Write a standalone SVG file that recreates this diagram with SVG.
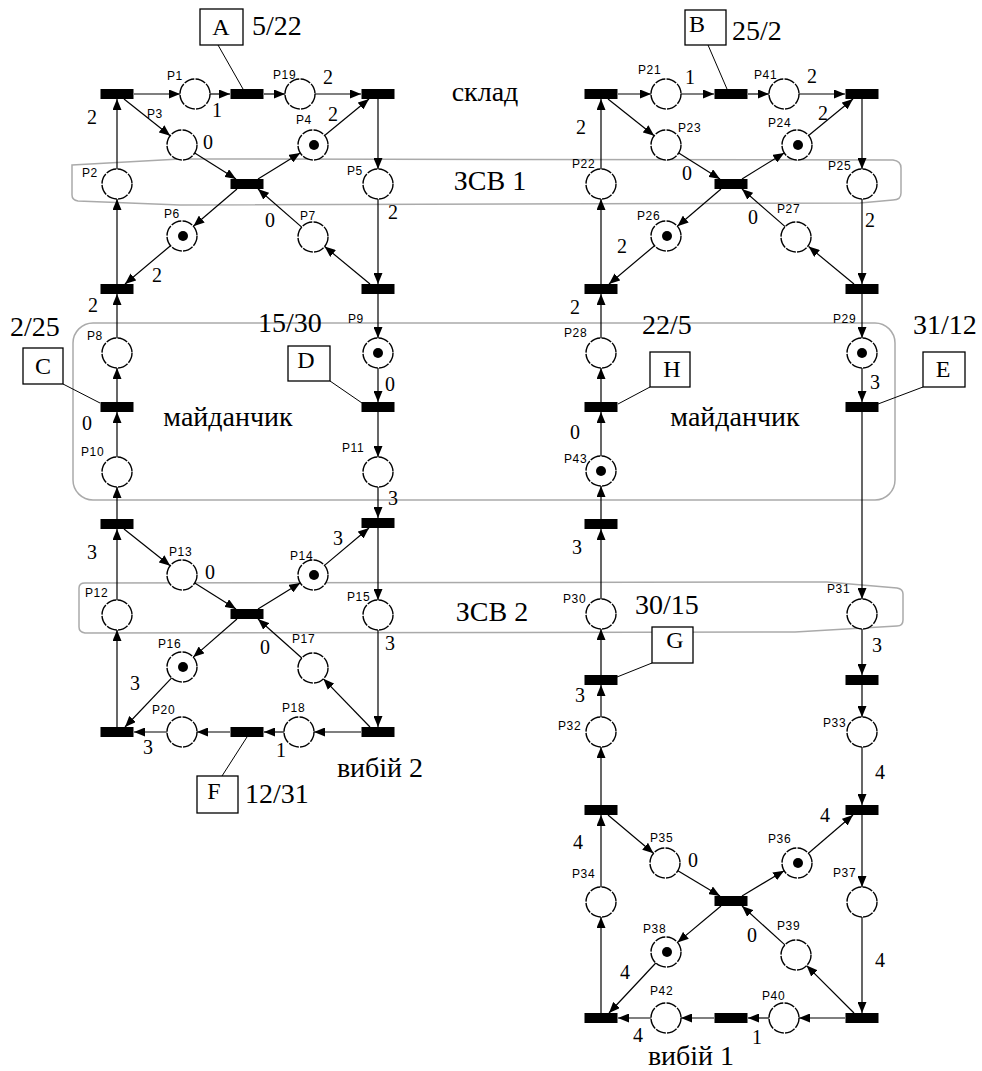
<svg xmlns="http://www.w3.org/2000/svg" width="982" height="1071" viewBox="0 0 982 1071">
<style>
.pl{fill:#fff;stroke:#000;stroke-width:1.4;stroke-dasharray:10.5 1.3}
.tr{fill:#000}
.tok{fill:#000}
.arc{stroke:#000;stroke-width:1.2;fill:none;marker-end:url(#ah)}
.lbl{font-family:"Liberation Sans",Arial,sans-serif;font-size:12px;letter-spacing:0.6px;fill:#000}
.w{font-family:"Liberation Serif","Times New Roman",serif;font-size:20px;fill:#000;text-anchor:middle}
.big{font-family:"Liberation Serif","Times New Roman",serif;font-size:28px;fill:#000}
.let{font-family:"Liberation Serif","Times New Roman",serif;font-size:24px;fill:#000;text-anchor:middle}
.box{fill:#fff;stroke:#000;stroke-width:1.3}
.lead{stroke:#000;stroke-width:1}
.band{fill:none;stroke:#aaa;stroke-width:1.5}
</style>
<defs>
<marker id="ah" markerUnits="userSpaceOnUse" markerWidth="11" markerHeight="9" refX="11" refY="4.5" orient="auto">
<path d="M0,0 L11,4.5 L0,9 z" fill="#000"/>
</marker>
</defs>
<rect width="982" height="1071" fill="#fff"/>

<g id="regions">
<path class="band" d="M72,165 L180,159 L893,160 Q901,161 901,168 L901,193 Q901,200 893,200 L860,203 L180,205 L78,201 Q72,200 72,195 Z"/>
<rect class="band" x="73" y="323" width="822" height="177" rx="20"/>
<path class="band" d="M79,588 Q79,583 85,583 L827,582 L897,588 Q903,589 903,594 L903,620 Q903,626 897,626 L795,632 L85,633 Q79,632 79,627 Z"/>
</g>

<g id="connectors">
<line class="arc" x1="134" y1="94" x2="180" y2="94"/>
<line class="arc" x1="210" y1="94" x2="230" y2="94"/>
<line class="arc" x1="264" y1="94" x2="285" y2="94"/>
<line class="arc" x1="315" y1="94" x2="361" y2="94"/>
<line class="arc" x1="378" y1="99" x2="378" y2="169"/>
<line class="arc" x1="378" y1="199" x2="378" y2="284"/>
<line class="arc" x1="117" y1="284" x2="117" y2="199"/>
<line class="arc" x1="117" y1="169" x2="117" y2="99"/>
<line class="arc" x1="124" y1="99" x2="170.2" y2="135.7"/>
<line class="arc" x1="194.7" y1="153" x2="236" y2="179"/>
<line class="arc" x1="258" y1="179" x2="300.2" y2="152.9"/>
<line class="arc" x1="324.6" y1="135.5" x2="369" y2="99"/>
<line class="arc" x1="370" y1="284" x2="324.6" y2="246.5"/>
<line class="arc" x1="301.7" y1="227.1" x2="258" y2="189"/>
<line class="arc" x1="237" y1="189" x2="193.4" y2="226.2"/>
<line class="arc" x1="170.5" y1="245.7" x2="125" y2="284"/>
<line class="arc" x1="378" y1="294" x2="378" y2="338"/>
<line class="arc" x1="378" y1="368" x2="378" y2="402"/>
<line class="arc" x1="378" y1="412" x2="378" y2="457"/>
<line class="arc" x1="378" y1="487" x2="378" y2="518"/>
<line class="arc" x1="117" y1="338" x2="117" y2="294"/>
<line class="arc" x1="117" y1="402" x2="117" y2="368"/>
<line class="arc" x1="117" y1="457" x2="117" y2="412"/>
<line class="arc" x1="117" y1="519" x2="117" y2="487"/>
<line class="arc" x1="117" y1="600" x2="117" y2="529"/>
<line class="arc" x1="117" y1="727" x2="117" y2="630"/>
<line class="arc" x1="378" y1="528" x2="378" y2="600"/>
<line class="arc" x1="378" y1="630" x2="378" y2="727"/>
<line class="arc" x1="361" y1="732" x2="314" y2="732"/>
<line class="arc" x1="284" y1="732" x2="264" y2="732"/>
<line class="arc" x1="230" y1="732" x2="197" y2="732"/>
<line class="arc" x1="167" y1="732" x2="134" y2="732"/>
<line class="arc" x1="124" y1="529" x2="170.2" y2="565.7"/>
<line class="arc" x1="194.7" y1="583" x2="236" y2="609"/>
<line class="arc" x1="258" y1="609" x2="300.2" y2="582.9"/>
<line class="arc" x1="324.5" y1="565.4" x2="369" y2="528"/>
<line class="arc" x1="370" y1="727" x2="323.4" y2="678.8"/>
<line class="arc" x1="301.8" y1="658" x2="258" y2="619"/>
<line class="arc" x1="237" y1="619" x2="193.3" y2="657.1"/>
<line class="arc" x1="171.7" y1="677.9" x2="125" y2="727"/>
<line class="arc" x1="618" y1="94" x2="651" y2="94"/>
<line class="arc" x1="681" y1="94" x2="714" y2="94"/>
<line class="arc" x1="748" y1="94" x2="769" y2="94"/>
<line class="arc" x1="799" y1="94" x2="845" y2="94"/>
<line class="arc" x1="862" y1="99" x2="862" y2="169"/>
<line class="arc" x1="862" y1="199" x2="862" y2="284"/>
<line class="arc" x1="601" y1="284" x2="601" y2="199"/>
<line class="arc" x1="601" y1="169" x2="601" y2="99"/>
<line class="arc" x1="608" y1="99" x2="654.2" y2="135.7"/>
<line class="arc" x1="678.7" y1="153" x2="720" y2="179"/>
<line class="arc" x1="742" y1="179" x2="784.2" y2="152.9"/>
<line class="arc" x1="808.6" y1="135.5" x2="853" y2="99"/>
<line class="arc" x1="854" y1="284" x2="808.6" y2="246.5"/>
<line class="arc" x1="785.7" y1="227.1" x2="742" y2="189"/>
<line class="arc" x1="721" y1="189" x2="677.4" y2="226.2"/>
<line class="arc" x1="654.5" y1="245.7" x2="609" y2="284"/>
<line class="arc" x1="862" y1="294" x2="862" y2="338"/>
<line class="arc" x1="862" y1="368" x2="862" y2="402"/>
<line class="arc" x1="862" y1="412" x2="862" y2="599"/>
<line class="arc" x1="862" y1="629" x2="862" y2="675"/>
<line class="arc" x1="862" y1="685" x2="862" y2="717"/>
<line class="arc" x1="862" y1="747" x2="862" y2="805"/>
<line class="arc" x1="862" y1="815" x2="862" y2="887"/>
<line class="arc" x1="862" y1="917" x2="862" y2="1013"/>
<line class="arc" x1="845" y1="1018" x2="799" y2="1018"/>
<line class="arc" x1="769" y1="1018" x2="748" y2="1018"/>
<line class="arc" x1="714" y1="1018" x2="681" y2="1018"/>
<line class="arc" x1="651" y1="1018" x2="618" y2="1018"/>
<line class="arc" x1="601" y1="1013" x2="601" y2="917"/>
<line class="arc" x1="601" y1="887" x2="601" y2="815"/>
<line class="arc" x1="601" y1="805" x2="601" y2="747"/>
<line class="arc" x1="601" y1="717" x2="601" y2="685"/>
<line class="arc" x1="601" y1="675" x2="601" y2="629"/>
<line class="arc" x1="601" y1="599" x2="601" y2="529"/>
<line class="arc" x1="601" y1="519" x2="601" y2="486"/>
<line class="arc" x1="601" y1="456" x2="601" y2="412"/>
<line class="arc" x1="601" y1="402" x2="601" y2="368"/>
<line class="arc" x1="601" y1="338" x2="601" y2="294"/>
<line class="arc" x1="608" y1="815" x2="653.5" y2="853.3"/>
<line class="arc" x1="677.9" y1="870.7" x2="720" y2="896"/>
<line class="arc" x1="742" y1="896" x2="784.1" y2="870.7"/>
<line class="arc" x1="808.4" y1="853.2" x2="853" y2="815"/>
<line class="arc" x1="854" y1="1013" x2="806.6" y2="965.6"/>
<line class="arc" x1="784.9" y1="944.9" x2="742" y2="906"/>
<line class="arc" x1="721" y1="906" x2="677.5" y2="942.4"/>
<line class="arc" x1="655.8" y1="963" x2="609" y2="1013"/>
<line class="lead" x1="218" y1="45" x2="243" y2="89"/>
<line class="lead" x1="708" y1="45" x2="727" y2="89"/>
<line class="lead" x1="63" y1="384" x2="100" y2="403"/>
<line class="lead" x1="330" y1="381" x2="362" y2="403"/>
<line class="lead" x1="650" y1="387" x2="618" y2="404"/>
<line class="lead" x1="923" y1="387" x2="878" y2="404"/>
<line class="lead" x1="652" y1="663" x2="617" y2="677"/>
<line class="lead" x1="222" y1="776" x2="247" y2="737"/>
</g>

<g id="weights">
<text class="w" x="92" y="124">2</text>
<text class="w" x="217" y="117">1</text>
<text class="w" x="328" y="84">2</text>
<text class="w" x="208" y="149">0</text>
<text class="w" x="333" y="121">2</text>
<text class="w" x="393" y="219">2</text>
<text class="w" x="270" y="227">0</text>
<text class="w" x="157" y="282">2</text>
<text class="w" x="93" y="312">2</text>
<text class="w" x="87" y="430">0</text>
<text class="w" x="390" y="391">0</text>
<text class="w" x="393" y="505">3</text>
<text class="w" x="92" y="559">3</text>
<text class="w" x="210" y="579">0</text>
<text class="w" x="338" y="545">3</text>
<text class="w" x="390" y="650">3</text>
<text class="w" x="265" y="654">0</text>
<text class="w" x="135" y="690">3</text>
<text class="w" x="148" y="754">3</text>
<text class="w" x="281" y="757">1</text>
<text class="w" x="690" y="84">1</text>
<text class="w" x="812" y="83">2</text>
<text class="w" x="581" y="134">2</text>
<text class="w" x="687" y="180">0</text>
<text class="w" x="823" y="120">2</text>
<text class="w" x="870" y="227">2</text>
<text class="w" x="753" y="224">0</text>
<text class="w" x="622" y="253">2</text>
<text class="w" x="575" y="314">2</text>
<text class="w" x="575" y="439">0</text>
<text class="w" x="875" y="389">3</text>
<text class="w" x="577" y="554">3</text>
<text class="w" x="580" y="702">3</text>
<text class="w" x="877" y="652">3</text>
<text class="w" x="880" y="779">4</text>
<text class="w" x="578" y="849">4</text>
<text class="w" x="693" y="867">0</text>
<text class="w" x="825" y="822">4</text>
<text class="w" x="752" y="942">0</text>
<text class="w" x="880" y="967">4</text>
<text class="w" x="625" y="979">4</text>
<text class="w" x="638" y="1042">4</text>
<text class="w" x="757" y="1044">1</text>
</g>

<g id="titles">
<text class="big" x="485" y="101" text-anchor="middle">склад</text>
<text class="big" x="490" y="190" text-anchor="middle">ЗСВ 1</text>
<text class="big" x="228" y="426" text-anchor="middle">майданчик</text>
<text class="big" x="735" y="426" text-anchor="middle">майданчик</text>
<text class="big" x="492" y="621" text-anchor="middle">ЗСВ 2</text>
<text class="big" x="380" y="777" text-anchor="middle">вибій 2</text>
<text class="big" x="691" y="1065" text-anchor="middle">вибій 1</text>
<text class="big" x="252" y="35">5/22</text>
<text class="big" x="732" y="40">25/2</text>
<text class="big" x="10" y="336">2/25</text>
<text class="big" x="258" y="332">15/30</text>
<text class="big" x="642" y="334">22/5</text>
<text class="big" x="913" y="334">31/12</text>
<text class="big" x="635" y="614">30/15</text>
<text class="big" x="245" y="803">12/31</text>
</g>

<g id="ann-A"><rect class="box" x="200" y="9" width="43" height="36"/><text class="let" x="221" y="35">A</text></g>
<g id="ann-B"><rect class="box" x="685" y="10" width="41" height="35"/><text class="let" x="697" y="32">B</text></g>
<g id="ann-C"><rect class="box" x="23" y="348" width="40" height="36"/><text class="let" x="43" y="374">C</text></g>
<g id="ann-D"><rect class="box" x="288" y="346" width="42" height="35"/><text class="let" x="306" y="368">D</text></g>
<g id="ann-H"><rect class="box" x="650" y="352" width="40" height="35"/><text class="let" x="672" y="377">H</text></g>
<g id="ann-E"><rect class="box" x="923" y="352" width="42" height="35"/><text class="let" x="943" y="377">E</text></g>
<g id="ann-G"><rect class="box" x="652" y="627" width="41" height="36"/><text class="let" x="675" y="648">G</text></g>
<g id="ann-F"><rect class="box" x="197" y="776" width="41" height="37"/><text class="let" x="214" y="799">F</text></g>

<g id="t1"><rect class="tr" x="100.5" y="89" width="33" height="10"/></g>
<g id="tA"><rect class="tr" x="230.5" y="89" width="33" height="10"/></g>
<g id="t2"><rect class="tr" x="361.5" y="89" width="33" height="10"/></g>
<g id="tc1"><rect class="tr" x="230.5" y="179" width="33" height="10"/></g>
<g id="t4"><rect class="tr" x="100.5" y="284" width="33" height="10"/></g>
<g id="t3"><rect class="tr" x="361.5" y="284" width="33" height="10"/></g>
<g id="tC"><rect class="tr" x="100.5" y="402" width="33" height="10"/></g>
<g id="tD"><rect class="tr" x="361.5" y="402" width="33" height="10"/></g>
<g id="t5"><rect class="tr" x="100.5" y="519" width="33" height="10"/></g>
<g id="t6"><rect class="tr" x="361.5" y="518" width="33" height="10"/></g>
<g id="tc2"><rect class="tr" x="230.5" y="609" width="33" height="10"/></g>
<g id="t8"><rect class="tr" x="100.5" y="727" width="33" height="10"/></g>
<g id="tF"><rect class="tr" x="230.5" y="727" width="33" height="10"/></g>
<g id="t7"><rect class="tr" x="361.5" y="727" width="33" height="10"/></g>
<g id="r1"><rect class="tr" x="584.5" y="89" width="33" height="10"/></g>
<g id="tB"><rect class="tr" x="714.5" y="89" width="33" height="10"/></g>
<g id="r2"><rect class="tr" x="845.5" y="89" width="33" height="10"/></g>
<g id="rc1"><rect class="tr" x="714.5" y="179" width="33" height="10"/></g>
<g id="r4"><rect class="tr" x="584.5" y="284" width="33" height="10"/></g>
<g id="r3"><rect class="tr" x="845.5" y="284" width="33" height="10"/></g>
<g id="tH"><rect class="tr" x="584.5" y="402" width="33" height="10"/></g>
<g id="tE"><rect class="tr" x="845.5" y="402" width="33" height="10"/></g>
<g id="r5"><rect class="tr" x="584.5" y="519" width="33" height="10"/></g>
<g id="tG"><rect class="tr" x="584.5" y="675" width="33" height="10"/></g>
<g id="r6"><rect class="tr" x="845.5" y="675" width="33" height="10"/></g>
<g id="r7"><rect class="tr" x="584.5" y="805" width="33" height="10"/></g>
<g id="r8"><rect class="tr" x="845.5" y="805" width="33" height="10"/></g>
<g id="rc2"><rect class="tr" x="714.5" y="896" width="33" height="10"/></g>
<g id="r9"><rect class="tr" x="584.5" y="1013" width="33" height="10"/></g>
<g id="r10"><rect class="tr" x="714.5" y="1013" width="33" height="10"/></g>
<g id="r11"><rect class="tr" x="845.5" y="1013" width="33" height="10"/></g>

<g id="P1"><circle class="pl" cx="195" cy="94" r="15"/><text class="lbl" x="167" y="80">P1</text></g>
<g id="P19"><circle class="pl" cx="300" cy="94" r="15"/><text class="lbl" x="273" y="79">P19</text></g>
<g id="P3"><circle class="pl" cx="182" cy="145" r="15"/><text class="lbl" x="147" y="118">P3</text></g>
<g id="P4"><circle class="pl" cx="313" cy="145" r="15"/><circle class="tok" cx="314" cy="145" r="5"/><text class="lbl" x="296" y="124">P4</text></g>
<g id="P2"><circle class="pl" cx="117" cy="184" r="15"/><text class="lbl" x="82" y="177">P2</text></g>
<g id="P5"><circle class="pl" cx="378" cy="184" r="15"/><text class="lbl" x="347" y="175">P5</text></g>
<g id="P6"><circle class="pl" cx="182" cy="236" r="15"/><circle class="tok" cx="183" cy="236" r="5"/><text class="lbl" x="164" y="218">P6</text></g>
<g id="P7"><circle class="pl" cx="313" cy="237" r="15"/><text class="lbl" x="300" y="220">P7</text></g>
<g id="P8"><circle class="pl" cx="117" cy="353" r="15"/><text class="lbl" x="87" y="340">P8</text></g>
<g id="P9"><circle class="pl" cx="378" cy="353" r="15"/><circle class="tok" cx="378" cy="353" r="5"/><text class="lbl" x="348" y="323">P9</text></g>
<g id="P10"><circle class="pl" cx="117" cy="472" r="15"/><text class="lbl" x="81" y="456">P10</text></g>
<g id="P11"><circle class="pl" cx="378" cy="472" r="15"/><text class="lbl" x="342" y="452">P11</text></g>
<g id="P13"><circle class="pl" cx="182" cy="575" r="15"/><text class="lbl" x="169" y="556">P13</text></g>
<g id="P14"><circle class="pl" cx="313" cy="575" r="15"/><circle class="tok" cx="314" cy="575" r="5"/><text class="lbl" x="290" y="560">P14</text></g>
<g id="P12"><circle class="pl" cx="117" cy="615" r="15"/><text class="lbl" x="85" y="597">P12</text></g>
<g id="P15"><circle class="pl" cx="378" cy="615" r="15"/><text class="lbl" x="347" y="601">P15</text></g>
<g id="P16"><circle class="pl" cx="182" cy="667" r="15"/><circle class="tok" cx="183" cy="667" r="5"/><text class="lbl" x="158" y="648">P16</text></g>
<g id="P17"><circle class="pl" cx="313" cy="668" r="15"/><text class="lbl" x="292" y="643">P17</text></g>
<g id="P20"><circle class="pl" cx="182" cy="732" r="15"/><text class="lbl" x="152" y="714">P20</text></g>
<g id="P18"><circle class="pl" cx="299" cy="732" r="15"/><text class="lbl" x="282" y="712">P18</text></g>
<g id="P21"><circle class="pl" cx="666" cy="94" r="15"/><text class="lbl" x="638" y="74">P21</text></g>
<g id="P41"><circle class="pl" cx="784" cy="94" r="15"/><text class="lbl" x="754" y="79">P41</text></g>
<g id="P23"><circle class="pl" cx="666" cy="145" r="15"/><text class="lbl" x="678" y="132">P23</text></g>
<g id="P24"><circle class="pl" cx="797" cy="145" r="15"/><circle class="tok" cx="798" cy="145" r="5"/><text class="lbl" x="768" y="127">P24</text></g>
<g id="P22"><circle class="pl" cx="601" cy="184" r="15"/><text class="lbl" x="572" y="168">P22</text></g>
<g id="P25"><circle class="pl" cx="862" cy="184" r="15"/><text class="lbl" x="828" y="170">P25</text></g>
<g id="P26"><circle class="pl" cx="666" cy="236" r="15"/><circle class="tok" cx="667" cy="236" r="5"/><text class="lbl" x="637" y="220">P26</text></g>
<g id="P27"><circle class="pl" cx="796" cy="237" r="15"/><text class="lbl" x="777" y="213">P27</text></g>
<g id="P28"><circle class="pl" cx="601" cy="353" r="15"/><text class="lbl" x="564" y="337">P28</text></g>
<g id="P29"><circle class="pl" cx="862" cy="353" r="15"/><circle class="tok" cx="862" cy="353" r="5"/><text class="lbl" x="833" y="323">P29</text></g>
<g id="P43"><circle class="pl" cx="601" cy="471" r="15"/><circle class="tok" cx="601" cy="471" r="5"/><text class="lbl" x="564" y="463">P43</text></g>
<g id="P30"><circle class="pl" cx="601" cy="614" r="15"/><text class="lbl" x="563" y="603">P30</text></g>
<g id="P31"><circle class="pl" cx="862" cy="614" r="15"/><text class="lbl" x="827" y="593">P31</text></g>
<g id="P32"><circle class="pl" cx="601" cy="732" r="15"/><text class="lbl" x="558" y="730">P32</text></g>
<g id="P33"><circle class="pl" cx="862" cy="732" r="15"/><text class="lbl" x="823" y="727">P33</text></g>
<g id="P35"><circle class="pl" cx="665" cy="863" r="15"/><text class="lbl" x="650" y="842">P35</text></g>
<g id="P36"><circle class="pl" cx="797" cy="863" r="15"/><circle class="tok" cx="798" cy="863" r="5"/><text class="lbl" x="768" y="843">P36</text></g>
<g id="P34"><circle class="pl" cx="601" cy="902" r="15"/><text class="lbl" x="572" y="878">P34</text></g>
<g id="P37"><circle class="pl" cx="862" cy="902" r="15"/><text class="lbl" x="833" y="877">P37</text></g>
<g id="P38"><circle class="pl" cx="666" cy="952" r="15"/><circle class="tok" cx="667" cy="952" r="5"/><text class="lbl" x="643" y="933">P38</text></g>
<g id="P39"><circle class="pl" cx="796" cy="955" r="15"/><text class="lbl" x="777" y="930">P39</text></g>
<g id="P42"><circle class="pl" cx="666" cy="1018" r="15"/><text class="lbl" x="650" y="995">P42</text></g>
<g id="P40"><circle class="pl" cx="784" cy="1018" r="15"/><text class="lbl" x="762" y="1000">P40</text></g>
</svg>
